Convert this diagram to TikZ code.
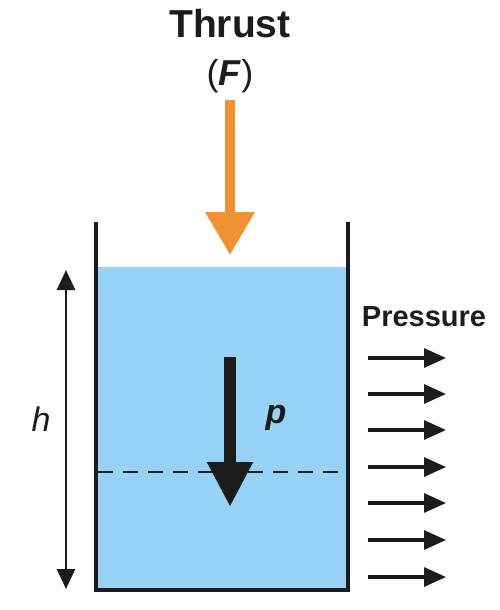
\documentclass[tikz,border=0pt]{standalone}
\usepackage{fontspec}
\setmainfont{Liberation Sans}
\usetikzlibrary{arrows.meta}
\definecolor{water}{HTML}{96D3F6}
\definecolor{thrustc}{HTML}{EF922F}
\definecolor{ink}{HTML}{1C1C1C}
\begin{document}
\begin{tikzpicture}[x=1pt,y=-1pt,
  lbl/.style={font=\bfseries, text=ink, inner sep=0pt},
  parrow/.style={draw=ink, line width=3.2pt, -{Triangle[length=22pt,width=19pt]}},
  harrow/.style={draw=ink, line width=2.8pt, {Triangle[length=20pt,width=18pt]}-{Triangle[length=20pt,width=18pt]}},
  wall/.style={draw=ink, line width=4pt, line join=miter}]
\useasboundingbox (0,0) rectangle (500,610);
% water
\fill[water] (96,267) rectangle (348,590);
% container
\draw[wall] (96,222) -- (96,590) -- (348,590) -- (348,222);
% dashed line
\coordinate (dl) at (98,472);
\coordinate (dr) at (346,472);
\draw[ink, line width=2.4pt, dash pattern=on 15pt off 10pt] (dl) -- (dr);
% thrust
\node[lbl, font=\bfseries\fontsize{39}{39}\selectfont] (thrust) at (230,24) {Thrust};
\node[lbl, font=\fontsize{36}{36}\selectfont] (F) at (230,76) {(\textbf{\textit{F}})};
\coordinate (ts) at (230,100);
\coordinate (te) at (230,255);
\draw[thrustc, line width=10pt, -{Triangle[length=43pt,width=47pt]}] (ts) -- (te);
% inner arrow p
\coordinate (ps) at (230,357);
\coordinate (pe) at (230,507);
\draw[ink, line width=12pt, -{Triangle[length=45pt,width=43pt]}] (ps) -- (pe);
\node[lbl, font=\bfseries\itshape\fontsize{34}{34}\selectfont] (p) at (276,418) {p};
% h
\coordinate (ht) at (66,270);
\coordinate (hb) at (66,589);
\draw[harrow] (ht) -- (hb);
\node[inner sep=0pt, text=ink, font=\itshape\fontsize{34}{34}\selectfont] (h) at (41,419) {h};
% pressure
\node[lbl, font=\bfseries\fontsize{29}{29}\selectfont] (pr) at (424,317) {Pressure};
\foreach \i/\yy in {1/358,2/394,3/430,4/467,5/503,6/540,7/577}{
  \coordinate (a\i) at (368,\yy);
  \coordinate (b\i) at (446,\yy);
  \draw[parrow] (a\i) -- (b\i);
}
\end{tikzpicture}
\end{document}
